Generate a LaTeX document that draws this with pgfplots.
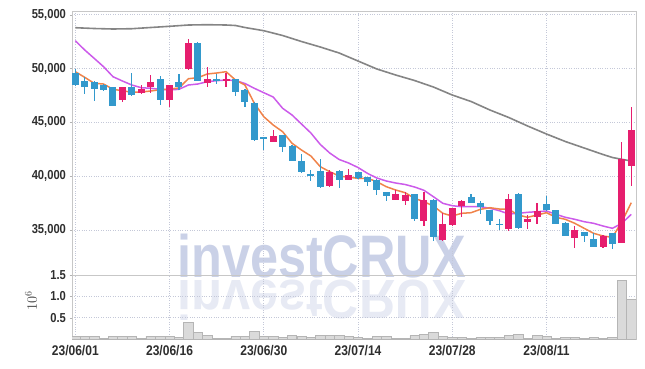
\documentclass[border=0pt]{standalone}
\usepackage{fontspec}
\setmainfont{Liberation Sans}
\newfontfamily\tickfont{Liberation Sans Bold}[FakeStretch=0.86]
\newfontfamily\wmfont{Liberation Sans Bold}
\usepackage{graphicx}
\usepackage{pgfplots}
\usepackage{pgfplotstable}
\pgfplotsset{compat=1.18}
\definecolor{upc}{HTML}{E61E6E}
\definecolor{dnc}{HTML}{3399CC}
\definecolor{maA}{HTML}{F0834A}
\definecolor{maB}{HTML}{CC5BEA}
\definecolor{maC}{HTML}{858585}
\definecolor{volf}{HTML}{DADADA}
\definecolor{vole}{HTML}{B5B5B5}
\definecolor{gridc}{HTML}{C4C8D8}
\definecolor{wm}{HTML}{CAD1E7}

\pgfplotstableread{
x o h l c
5 47100 48300 46850 48250
7 47700 48450 47650 48100
8 48300 49400 47700 48750
10 47100 48500 46400 48450
12 49950 52750 49900 52350
14 48700 50150 48250 49000
16 48950 49550 48300 49000
21 43200 44300 43150 43750
27 39050 40550 39000 40350
29 39650 40650 39600 40100
34 37800 38700 37750 38350
35 37700 38550 37300 38250
37 35850 38500 35350 37800
39 34050 36600 34000 35600
40 35500 37050 35350 37000
41 37250 37750 36250 37700
46 35050 38300 34900 37900
48 35700 36400 35050 36000
49 36250 37500 35600 36750
53 34250 35350 33350 35000
56 33400 34550 33350 34400
58 33800 43150 33750 41550
59 40950 46450 39100 44300
}\upcandles

\pgfplotstableread{
x o h l c
0 49600 50000 48400 48450
1 48850 49250 47650 48300
2 48750 48850 47000 48100
3 48450 48550 47950 48000
4 48250 48300 46500 46500
6 48250 49550 47450 47550
9 49000 49350 46650 47100
11 48750 49450 48000 48250
13 52400 52450 48800 48850
15 49000 49500 48600 48900
17 49000 49050 47450 47850
18 48000 48050 46450 46900
19 46800 46850 43300 43350
20 43600 43650 42450 43550
22 43800 43850 42200 42750
23 42800 42850 41400 41450
24 41450 42050 40250 40400
25 40150 40550 39550 40100
26 40500 41550 38900 38950
28 40500 40550 38900 39600
30 40350 40400 39750 39800
31 39900 39950 39100 39450
32 39650 39700 38250 38700
33 38500 38550 37700 38200
36 38300 38350 35850 36000
38 37800 37850 34000 34350
42 38050 38300 37500 37550
43 37550 37650 36500 37150
44 36850 36900 35450 35850
45 35550 36000 35000 35500
47 38350 38400 35100 35200
50 37400 38200 36800 36850
51 36850 36900 35550 35550
52 35650 35700 34400 34450
54 34800 34850 33900 34400
55 34150 34700 33400 33450
57 34700 34750 33200 33700
}\dncandles

\pgfplotstableread{
x y
0 49703
1 49182
2 48625
3 48560
4 48068
5 47938
6 47789
7 47817
8 47910
9 48030
10 48096
11 48188
12 49052
13 49145
14 49489
15 49582
16 49703
17 48932
18 48467
19 46767
20 45522
21 44751
22 44129
23 43051
24 42429
25 41871
26 40877
27 40413
28 40013
29 39893
30 39800
31 39800
32 39484
33 39020
34 38713
35 38462
36 37942
37 37626
38 37227
39 36548
40 36297
41 36548
42 36604
43 36920
44 37068
45 36947
46 36920
47 36390
48 36177
49 36390
50 36604
51 36177
52 35991
53 35619
54 35154
55 34690
56 34439
57 34319
58 35768
59 37533
}\maAtab

\pgfplotstableread{
x y
0 52583
1 51719
2 50948
3 50167
4 49238
5 48839
6 48467
7 48216
8 48161
9 48068
10 48003
11 48068
12 48467
13 48560
14 48774
15 48867
16 48932
17 48885
18 48607
19 48161
20 47752
21 47352
22 46303
23 45680
24 44844
25 44008
26 42940
27 42150
28 41546
29 41221
30 40803
31 40264
32 39827
33 39549
34 39363
35 39224
36 38991
37 38685
38 38090
39 37477
40 37254
41 37161
42 37161
43 37161
44 37013
45 36790
46 36483
47 36548
48 36641
49 36697
50 36762
51 36455
52 36177
53 35991
54 35768
55 35619
56 35368
57 35154
58 35619
59 36455
}\maBtab

\pgfplotstableread{
x y
0 53790
2 53716
4 53670
6 53697
8 53809
10 53920
12 54041
14 54069
16 54041
17 53995
18 53809
20 53512
22 53066
24 52508
26 51997
28 51440
30 50697
32 49954
34 49396
36 48885
38 48281
40 47538
42 46934
44 46145
46 45448
48 44658
50 43915
52 43218
54 42614
56 42011
57 41732
58 41565
59 41407
}\maCtab

\pgfplotstableread{
x v
0 0.07
1 0.07
2 0.07
3 0.016
4 0.07
5 0.07
6 0.07
7 0.016
8 0.07
9 0.07
10 0.07
11 0.047
12 0.39
13 0.148
14 0.093
15 0.016
16 0.016
17 0.07
18 0.07
19 0.186
20 0.07
21 0.054
22 0.039
23 0.093
24 0.07
25 0.039
26 0.093
27 0.093
28 0.093
29 0.054
30 0.047
31 0.016
32 0.07
33 0.07
34 0.016
35 0.016
36 0.078
37 0.117
38 0.163
39 0.07
40 0.039
41 0.039
42 0.016
43 0.039
44 0.039
45 0.039
46 0.093
47 0.117
48 0.016
49 0.085
50 0.07
51 0.016
52 0.039
53 0.039
54 0.016
55 0.039
56 0.016
57 0.039
58 1.375
59 0.925
}\voltab

\pgfplotsset{
  common/.style={
    scale only axis, width=564pt,
    xmin=-0.35, xmax=59.5,
    axis line style={draw=black!22},
    grid=major,
    grid style={dotted, line width=0.8pt, draw=gridc},
    xtick={0,10,20,30,40,50},
    ytick pos=left, xtick pos=bottom,
    tick align=outside, major tick length=2.5pt,
    ytick style={draw=black!30}, xtick style={draw=none},
    yticklabel style={font=\tickfont\fontsize{13}{13}\selectfont, text=black!82},
    xticklabel style={font=\tickfont\fontsize{14}{14}\selectfont, text=black!82},
  },
}

\begin{document}
\begin{tikzpicture}
\path[use as bounding box] (0,0) rectangle (645pt,-368pt);
% watermark
\node[anchor=base, text=wm, inner sep=0pt, font=\wmfont\fontsize{60}{60}\selectfont] at (321.5pt,-277pt) {\scalebox{0.84}[1]{investCRUX}};
\node[anchor=base, text=wm!45, inner sep=0pt, font=\wmfont\fontsize{60}{60}\selectfont] at (321.5pt,-280pt) {\scalebox{0.84}[-0.92]{investCRUX}};

\begin{axis}[common,
  at={(72pt,-275pt)}, anchor=south west, height=264pt,
  ymin=30816, ymax=55342,
  xticklabels={},
  ytick={35000,40000,45000,50000,55000},
  scaled y ticks=false,
  /pgf/number format/.cd, fixed, 1000 sep={,}, assume math mode=true,
]
% moving averages
\addplot[maC, line width=1.6pt, forget plot] table[x=x, y=y] {\maCtab};
\addplot[maB, line width=1.5pt, forget plot] table[x=x, y=y] {\maBtab};
\addplot[maA, line width=1.5pt, forget plot] table[x=x, y=y] {\maAtab};
% down candles
\addplot[draw=none, mark=none, forget plot,
  error bars/.cd, y dir=both, y explicit, error mark=none,
  error bar style={line width=1.2pt, draw=dnc}]
  table[x=x, y expr={(\thisrow{h}+\thisrow{l})/2}, y error expr={(\thisrow{h}-\thisrow{l})/2}] {\dncandles};
\addplot[draw=none, mark=none, forget plot,
  error bars/.cd, y dir=both, y explicit, error mark=none,
  error bar style={line width=7pt, draw=dnc}]
  table[x=x, y expr={(\thisrow{o}+\thisrow{c})/2}, y error expr={max(abs(\thisrow{o}-\thisrow{c})/2,50)}] {\dncandles};
% up candles
\addplot[draw=none, mark=none, forget plot,
  error bars/.cd, y dir=both, y explicit, error mark=none,
  error bar style={line width=1.2pt, draw=upc}]
  table[x=x, y expr={(\thisrow{h}+\thisrow{l})/2}, y error expr={(\thisrow{h}-\thisrow{l})/2}] {\upcandles};
\addplot[draw=none, mark=none, forget plot,
  error bars/.cd, y dir=both, y explicit, error mark=none,
  error bar style={line width=7pt, draw=upc}]
  table[x=x, y expr={(\thisrow{o}+\thisrow{c})/2}, y error expr={max(abs(\thisrow{o}-\thisrow{c})/2,50)}] {\upcandles};
\end{axis}

\begin{axis}[common,
  at={(72pt,-339pt)}, anchor=south west, height=64pt,
  ymin=0, ymax=1.5,
  ytick={0.5,1,1.5}, yticklabels={0.5,1.0,1.5},
  xticklabels={23/06/01,23/06/16,23/06/30,23/07/14,23/07/28,23/08/11},
]
\addplot[ybar, bar width=9.4pt, fill=volf, draw=vole, line width=0.5pt] table[x=x, y=v] {\voltab};
\end{axis}

\node[rotate=90, font=\fontsize{14}{14}\selectfont, text=black!75] at (31pt,-301pt) {$10^{6}$};
\end{tikzpicture}
\end{document}
